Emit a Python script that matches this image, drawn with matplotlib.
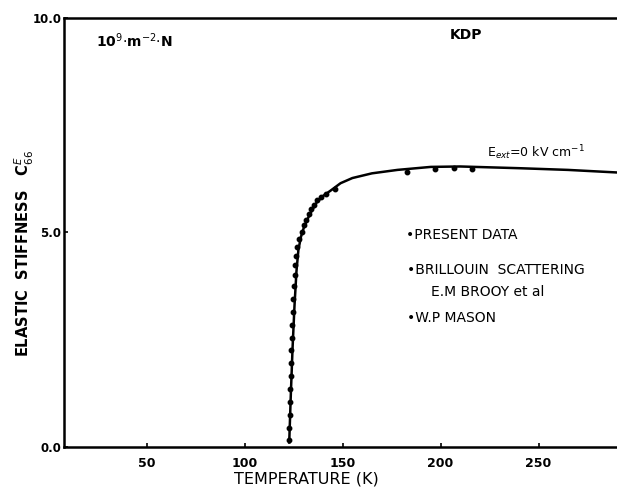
import matplotlib
matplotlib.use('Agg')
from matplotlib import pyplot as plt

# curve (temperature K, stiffness in 10^9 N m^-2)
curve_t = [122.8, 123.6, 124.5, 125.5, 126.5, 127.5, 128.8, 130.3, 132.0,
           134.2, 136.8, 140.0, 144.0, 149.0, 155.0, 165.0, 178.0, 195.0,
           210.0, 240.0, 265.0, 290.0]
curve_c = [0.10, 1.20, 2.30, 3.30, 4.10, 4.60, 4.90, 5.12, 5.30,
           5.50, 5.70, 5.85, 5.98, 6.15, 6.27, 6.38, 6.46, 6.53,
           6.54, 6.50, 6.46, 6.40]

# present data points
data_t = [122.6, 122.8, 123.0, 123.1, 123.3, 123.5, 123.6, 123.8, 124.0,
          124.2, 124.5, 124.8, 125.1, 125.5, 125.9, 126.4, 127.0, 128.0,
          129.2, 130.4, 131.6, 132.8, 134.0, 135.4, 137.0, 139.0, 141.5,
          146.0, 183.0, 197.0, 207.0, 216.0]
data_c = [0.15, 0.45, 0.75, 1.05, 1.35, 1.65, 1.95, 2.25, 2.55,
          2.85, 3.15, 3.45, 3.75, 4.00, 4.25, 4.45, 4.65, 4.85,
          5.02, 5.18, 5.30, 5.44, 5.55, 5.65, 5.75, 5.83, 5.90,
          6.02, 6.42, 6.48, 6.50, 6.48]

x_ticks = [50, 100, 150, 200, 250]
y_ticks = [0, 5, 10]
y_labels = ['0.0', '5.0', '10.0']

fig = plt.figure(figsize=(6.17, 4.91), dpi=100)
ax = fig.add_axes([0.104, 0.090, 0.896, 0.873])

ax.plot(curve_t, curve_c, color='black', lw=1.8)
ax.plot(data_t, data_c, 'o', color='black', ms=3.2)

ax.set_xlim(8, 290)
ax.set_ylim(0, 10)
ax.set_xticks(x_ticks)
ax.set_yticks(y_ticks)
ax.set_yticklabels(y_labels)
ax.tick_params(direction='in', length=3, width=1.2, labelsize=9)
ax.tick_params(axis='x', pad=7)
ax.tick_params(axis='y', pad=2, labelsize=8.5)
for lab in ax.get_xticklabels() + ax.get_yticklabels():
    lab.set_fontweight('bold')
ax.spines['right'].set_visible(False)
for s in ['left', 'top', 'bottom']:
    ax.spines[s].set_linewidth(1.8)

fig.text(0.496, 0.024, 'TEMPERATURE (K)', fontsize=11.5,
         ha='center', va='center')
fig.text(0.040, 0.485, 'ELASTIC  STIFFNESS   C$^{E}_{66}$', rotation=90,
         fontsize=10.5, fontweight='bold', ha='center', va='center')

fig.text(0.155, 0.918, r'10$^{9}$$\cdot$m$^{-2}$$\cdot$N', fontsize=10,
         fontweight='bold', ha='left', va='center')
fig.text(0.755, 0.928, 'KDP', fontsize=10, fontweight='bold',
         ha='center', va='center')
fig.text(0.790, 0.690, 'E$_{ext}$=0 kV cm$^{-1}$', fontsize=9,
         ha='left', va='center')

fig.text(0.658, 0.521, '•PRESENT DATA', fontsize=10, ha='left', va='center')
fig.text(0.660, 0.450, '•BRILLOUIN  SCATTERING', fontsize=10,
         ha='left', va='center')
fig.text(0.698, 0.405, 'E.M BROOY et al', fontsize=10, ha='left',
         va='center')
fig.text(0.660, 0.352, '•W.P MASON', fontsize=10, ha='left', va='center')

fig.savefig('out.png', dpi=100)
